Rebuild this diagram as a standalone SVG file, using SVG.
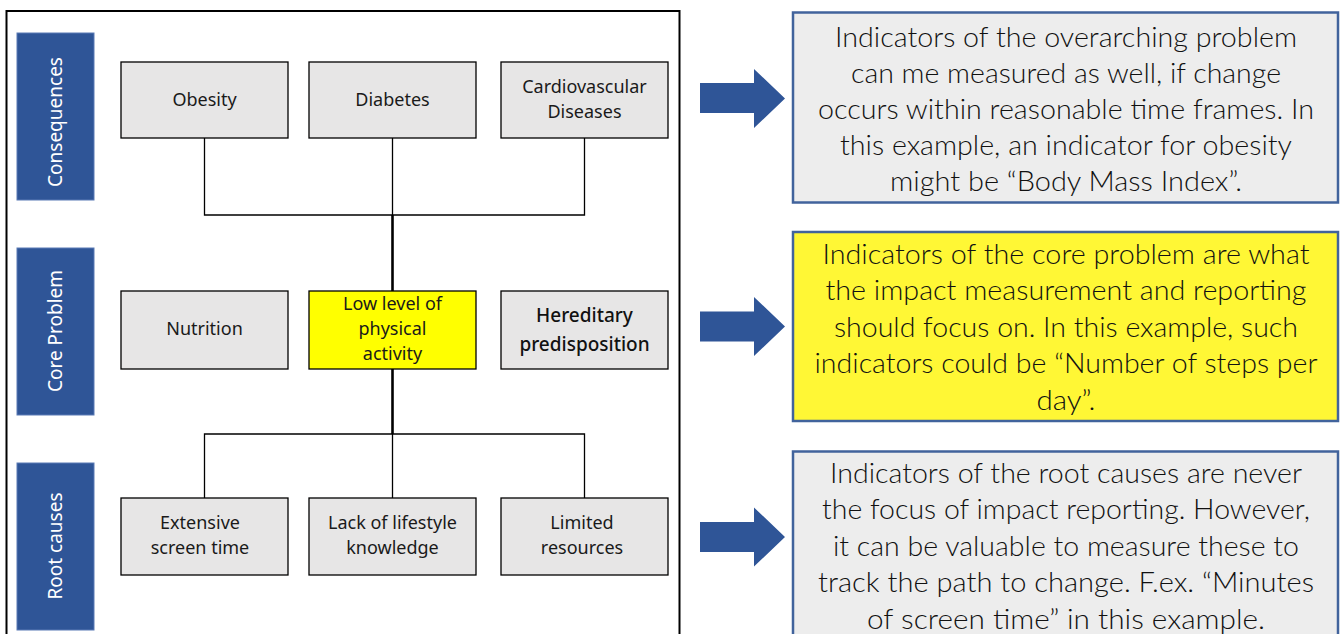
<svg xmlns="http://www.w3.org/2000/svg" width="1343" height="634" viewBox="0 0 1343 634">
  <style>
    .frame { fill: #ffffff; stroke: #000000; stroke-width: 2; }
    .band { fill: #2F5597; stroke: #5b7bb5; stroke-width: 1; }
    .band-text { font-family: "Noto Sans", "DejaVu Sans", sans-serif; font-size: 19px; fill: #ffffff; text-anchor: middle; }
    .box { fill: #E7E6E6; stroke: #000000; stroke-width: 1.3; }
    .box-core { fill: #FFFF00; stroke: #000000; stroke-width: 1.3; }
    .lbl { font-family: "Noto Sans", "DejaVu Sans", sans-serif; font-weight: 400; font-size: 18px; fill: #1a1a1a; text-anchor: middle; }
    .lbl-b { font-family: "Noto Sans", "DejaVu Sans", sans-serif; font-size: 19px; fill: #111111; text-anchor: middle; font-weight: 500; }
    .thin { stroke: #000000; stroke-width: 1.3; fill: none; }
    .thick { stroke: #000000; stroke-width: 2.6; fill: none; }
    .arrow { fill: #2F5597; }
    .note { fill: #EDEDED; stroke: #41639C; stroke-width: 2.5; }
    .note-y { fill: #FFF735; stroke: #41639C; stroke-width: 2.5; }
    .nt { font-family: Lato, "Noto Sans", sans-serif; font-weight: 300; font-size: 28px; fill: #111111; text-anchor: middle; }
  </style>

  <rect class="frame" x="6.5" y="11" width="673" height="640"/>

  <g id="band-consequences">
    <rect class="band" x="17" y="33" width="77" height="167"/>
    <text class="band-text" transform="translate(62,122) rotate(-90)">Consequences</text>
  </g>
  <g id="band-core">
    <rect class="band" x="17" y="248" width="77" height="167"/>
    <text class="band-text" transform="translate(62,331) rotate(-90)">Core Problem</text>
  </g>
  <g id="band-root">
    <rect class="band" x="17" y="463" width="77" height="167"/>
    <text class="band-text" transform="translate(62,546) rotate(-90)">Root causes</text>
  </g>

  <g id="connectors">
    <path class="thin" d="M204.5,138 V215 H584.5 V138"/>
    <path class="thin" d="M392.5,138 V215"/>
    <path class="thick" d="M392.5,215 V291"/>
    <path class="thick" d="M392.5,369 V434"/>
    <path class="thin" d="M204.5,498 V434 H584.5 V498"/>
    <path class="thin" d="M392.5,434 V498"/>
  </g>

  <g id="n-obesity">
    <rect class="box" x="121" y="62" width="167" height="76"/>
    <text class="lbl" x="204.5" y="106">Obesity</text>
  </g>
  <g id="n-diabetes">
    <rect class="box" x="309" y="62" width="167" height="76"/>
    <text class="lbl" x="392.5" y="106">Diabetes</text>
  </g>
  <g id="n-cardio">
    <rect class="box" x="501" y="62" width="167" height="76"/>
    <text class="lbl" x="584.5" y="93">Cardiovascular</text>
    <text class="lbl" x="584.5" y="118">Diseases</text>
  </g>

  <g id="n-nutrition">
    <rect class="box" x="121" y="291" width="167" height="78"/>
    <text class="lbl" x="204.5" y="335">Nutrition</text>
  </g>
  <g id="n-lowactivity">
    <rect class="box-core" x="309" y="291" width="167" height="78"/>
    <text class="lbl" x="392.5" y="310">Low level of</text>
    <text class="lbl" x="392.5" y="335">physical</text>
    <text class="lbl" x="392.5" y="360">activity</text>
  </g>
  <g id="n-hereditary">
    <rect class="box" x="501" y="291" width="167" height="78"/>
    <text class="lbl-b" x="584.5" y="322">Hereditary</text>
    <text class="lbl-b" x="584.5" y="351">predisposition</text>
  </g>

  <g id="n-screen">
    <rect class="box" x="121" y="498" width="167" height="77"/>
    <text class="lbl" x="200" y="529">Extensive</text>
    <text class="lbl" x="200" y="554">screen time</text>
  </g>
  <g id="n-knowledge">
    <rect class="box" x="309" y="498" width="167" height="77"/>
    <text class="lbl" x="392.5" y="529">Lack of lifestyle</text>
    <text class="lbl" x="392.5" y="554">knowledge</text>
  </g>
  <g id="n-resources">
    <rect class="box" x="501" y="498" width="167" height="77"/>
    <text class="lbl" x="582" y="529">Limited</text>
    <text class="lbl" x="582" y="554">resources</text>
  </g>

  <g id="arrow-1">
    <polygon class="arrow" points="700,83 754,83 754,69 785,98.5 754,128 754,113 700,113"/>
  </g>
  <g id="arrow-2">
    <polygon class="arrow" points="700,311.5 754,311.5 754,297 785,326.5 754,356 754,341.5 700,341.5"/>
  </g>
  <g id="arrow-3">
    <polygon class="arrow" points="700,522 754,522 754,507.5 785,537 754,566.5 754,552 700,552"/>
  </g>

  <g id="note-consequences">
    <rect class="note" x="793" y="12.5" width="545" height="190"/>
    <text class="nt" x="1066" y="47" textLength="462" lengthAdjust="spacingAndGlyphs">Indicators of the overarching problem</text>
    <text class="nt" x="1066" y="83" textLength="430" lengthAdjust="spacingAndGlyphs">can me measured as well, if change</text>
    <text class="nt" x="1066" y="119" textLength="496" lengthAdjust="spacingAndGlyphs">occurs within reasonable time frames. In</text>
    <text class="nt" x="1066" y="155" textLength="452" lengthAdjust="spacingAndGlyphs">this example, an indicator for obesity</text>
    <text class="nt" x="1066" y="191" textLength="352" lengthAdjust="spacingAndGlyphs">might be “Body Mass Index”.</text>
  </g>

  <g id="note-core">
    <rect class="note-y" x="793" y="232" width="545" height="189"/>
    <text class="nt" x="1066" y="264" textLength="487" lengthAdjust="spacingAndGlyphs">Indicators of the core problem are what</text>
    <text class="nt" x="1066" y="300" textLength="481" lengthAdjust="spacingAndGlyphs">the impact measurement and reporting</text>
    <text class="nt" x="1066" y="337" textLength="464" lengthAdjust="spacingAndGlyphs">should focus on. In this example, such</text>
    <text class="nt" x="1066" y="373" textLength="503" lengthAdjust="spacingAndGlyphs">indicators could be “Number of steps per</text>
    <text class="nt" x="1066" y="410" textLength="59" lengthAdjust="spacingAndGlyphs">day”.</text>
  </g>

  <g id="note-root">
    <rect class="note" x="793" y="451.5" width="545" height="200"/>
    <text class="nt" x="1066" y="483" textLength="472" lengthAdjust="spacingAndGlyphs">Indicators of the root causes are never</text>
    <text class="nt" x="1066" y="519" textLength="488" lengthAdjust="spacingAndGlyphs">the focus of impact reporting. However,</text>
    <text class="nt" x="1066" y="556" textLength="466" lengthAdjust="spacingAndGlyphs">it can be valuable to measure these to</text>
    <text class="nt" x="1066" y="592" textLength="496" lengthAdjust="spacingAndGlyphs">track the path to change. F.ex. “Minutes</text>
    <text class="nt" x="1066" y="629" textLength="398" lengthAdjust="spacingAndGlyphs">of screen time” in this example.</text>
  </g>
</svg>
